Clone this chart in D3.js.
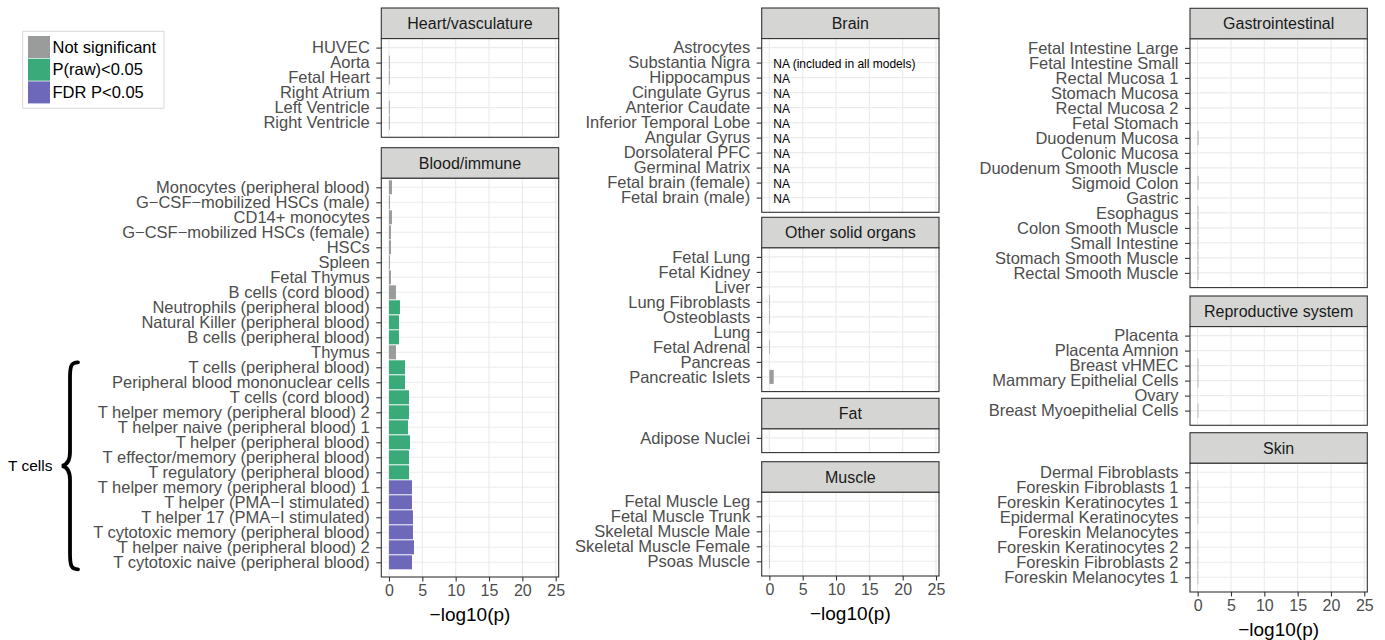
<!DOCTYPE html>
<html>
<head>
<meta charset="utf-8">
<script src="https://cdn.jsdelivr.net/npm/d3@7"></script>
<style>
  html, body { margin: 0; padding: 0; background: #fff; }
  svg { display: block; font-family: "Liberation Sans", Arial, Helvetica, sans-serif; }
</style>
</head>
<body>
<svg id="chart" width="1385" height="640"></svg>
<script>
// ---------------- DATA ----------------
const statusLevels = ["ns", "raw", "fdr"];
const legendLabels = ["Not significant", "P(raw)<0.05", "FDR P<0.05"];
const xTicks = [0, 5, 10, 15, 20, 25];
const xTitle = "\u2212log10(p)";

const heartTissues = ["HUVEC", "Aorta", "Fetal Heart", "Right Atrium", "Left Ventricle", "Right Ventricle"];
const heartLogP    = [0, 0.12, 0.12, 0, 0.12, 0.12];
const heartStatus  = ["ns", "ns", "ns", "ns", "ns", "ns"];

const bloodTissues = ["Monocytes (peripheral blood)", "G\u2212CSF\u2212mobilized HSCs (male)", "CD14+ monocytes",
  "G\u2212CSF\u2212mobilized HSCs (female)", "HSCs", "Spleen", "Fetal Thymus", "B cells (cord blood)",
  "Neutrophils (peripheral blood)", "Natural Killer (peripheral blood)", "B cells (peripheral blood)", "Thymus",
  "T cells (peripheral blood)", "Peripheral blood mononuclear cells", "T cells (cord blood)",
  "T helper memory (peripheral blood) 2", "T helper naive (peripheral blood) 1", "T helper (peripheral blood)",
  "T effector/memory (peripheral blood)", "T regulatory (peripheral blood)", "T helper memory (peripheral blood) 1",
  "T helper (PMA\u2212I stimulated)", "T helper 17 (PMA\u2212I stimulated)", "T cytotoxic memory (peripheral blood)",
  "T helper naive (peripheral blood) 2", "T cytotoxic naive (peripheral blood)"];
const bloodLogP   = [0.45, 0.15, 0.45, 0.3, 0.3, 0.15, 0.3, 1.05, 1.65, 1.5, 1.5, 1.05,
  2.4, 2.4, 3.0, 3.0, 2.85, 3.15, 3.0, 3.0, 3.45, 3.45, 3.6, 3.6, 3.75, 3.45];
const bloodStatus = ["ns", "ns", "ns", "ns", "ns", "ns", "ns", "ns", "raw", "raw", "raw", "ns",
  "raw", "raw", "raw", "raw", "raw", "raw", "raw", "raw", "fdr", "fdr", "fdr", "fdr", "fdr", "fdr"];

const brainTissues = ["Astrocytes", "Substantia Nigra", "Hippocampus", "Cingulate Gyrus", "Anterior Caudate",
  "Inferior Temporal Lobe", "Angular Gyrus", "Dorsolateral PFC", "Germinal Matrix", "Fetal brain (female)", "Fetal brain (male)"];
const brainLogP   = [null, null, null, null, null, null, null, null, null, null, null];
const brainStatus = ["ns", "ns", "ns", "ns", "ns", "ns", "ns", "ns", "ns", "ns", "ns"];
const brainNotes  = ["", "NA (included in all models)", "NA", "NA", "NA", "NA", "NA", "NA", "NA", "NA", "NA"];

const otherTissues = ["Fetal Lung", "Fetal Kidney", "Liver", "Lung Fibroblasts", "Osteoblasts", "Lung",
  "Fetal Adrenal", "Pancreas", "Pancreatic Islets"];
const otherLogP   = [0, 0, 0, 0.1, 0.1, 0, 0.1, 0, 0.65];
const otherStatus = ["ns", "ns", "ns", "ns", "ns", "ns", "ns", "ns", "ns"];

const fatTissues = ["Adipose Nuclei"];
const fatLogP    = [0];
const fatStatus  = ["ns"];

const muscleTissues = ["Fetal Muscle Leg", "Fetal Muscle Trunk", "Skeletal Muscle Male", "Skeletal Muscle Female", "Psoas Muscle"];
const muscleLogP    = [0, 0, 0.08, 0.08, 0.08];
const muscleStatus  = ["ns", "ns", "ns", "ns", "ns"];

const giTissues = ["Fetal Intestine Large", "Fetal Intestine Small", "Rectal Mucosa 1", "Stomach Mucosa",
  "Rectal Mucosa 2", "Fetal Stomach", "Duodenum Mucosa", "Colonic Mucosa", "Duodenum Smooth Muscle",
  "Sigmoid Colon", "Gastric", "Esophagus", "Colon Smooth Muscle", "Small Intestine",
  "Stomach Smooth Muscle", "Rectal Smooth Muscle"];
const giLogP   = [0, 0, 0, 0, 0, 0, 0.12, 0, 0, 0.12, 0, 0.1, 0.1, 0.1, 0.1, 0.1];
const giStatus = Array.from(giTissues, () => "ns");

const reproTissues = ["Placenta", "Placenta Amnion", "Breast vHMEC", "Mammary Epithelial Cells", "Ovary", "Breast Myoepithelial Cells"];
const reproLogP    = [0, 0, 0.1, 0.1, 0, 0.1];
const reproStatus  = ["ns", "ns", "ns", "ns", "ns", "ns"];

const skinTissues = ["Dermal Fibroblasts", "Foreskin Fibroblasts 1", "Foreskin Keratinocytes 1", "Epidermal Keratinocytes",
  "Foreskin Melanocytes", "Foreskin Keratinocytes 2", "Foreskin Fibroblasts 2", "Foreskin Melanocytes 1"];
const skinLogP    = [0, 0.08, 0.08, 0.08, 0, 0.08, 0.08, 0.08];
const skinStatus  = ["ns", "ns", "ns", "ns", "ns", "ns", "ns", "ns"];

const bracketLabel = "T cells";

// ---------------- LAYOUT / STYLE ----------------
const colors = { ns: "#9A9C9C", raw: "#3BAA7B", fdr: "#6D68B9" };
const columns = [
  { x0: 381.3, x1: 558.7 },
  { x0: 761.7, x1: 939.0 },
  { x0: 1190.0, x1: 1367.3 }
];
const panels = [
  { title: "Heart/vasculature",   col: 0, top: 8,     tissues: heartTissues, logp: heartLogP, status: heartStatus },
  { title: "Blood/immune",        col: 0, top: 147.7, tissues: bloodTissues, logp: bloodLogP, status: bloodStatus, axis: true },
  { title: "Brain",               col: 1, top: 8,     tissues: brainTissues, logp: brainLogP, status: brainStatus, notes: brainNotes },
  { title: "Other solid organs",  col: 1, top: 217.3, tissues: otherTissues, logp: otherLogP, status: otherStatus },
  { title: "Fat",                 col: 1, top: 398.3, tissues: fatTissues, logp: fatLogP, status: fatStatus },
  { title: "Muscle",              col: 1, top: 461.7, tissues: muscleTissues, logp: muscleLogP, status: muscleStatus, axis: true },
  { title: "Gastrointestinal",    col: 2, top: 8.3,   tissues: giTissues, logp: giLogP, status: giStatus },
  { title: "Reproductive system", col: 2, top: 296,   tissues: reproTissues, logp: reproLogP, status: reproStatus },
  { title: "Skin",                col: 2, top: 432.7, tissues: skinTissues, logp: skinLogP, status: skinStatus, axis: true }
];
const STRIP_H = 30.6, ROW = 15, TOP_PAD = 9, BOT_PAD = 14.7, BAR_H = 14;
const LABEL_FS = 16.5, STRIP_FS = 16, TICK_FS = 16, TITLE_FS = 19;

const svg = d3.select("#chart");

panels.forEach(p => {
  const c = columns[p.col];
  const x = d3.scaleLinear().domain([-1.15, 25.45]).range([c.x0, c.x1]);
  const bodyTop = p.top + STRIP_H;
  const n = p.tissues.length;
  const bodyBot = bodyTop + TOP_PAD + ROW * (n - 1) + BOT_PAD;
  const y = d3.scalePoint().domain(p.tissues).range([bodyTop + TOP_PAD, bodyTop + TOP_PAD + ROW * (n - 1)]);
  const g = svg.append("g");
  const w = c.x1 - c.x0;

  // strip
  g.append("rect").attr("x", c.x0).attr("y", p.top).attr("width", w).attr("height", STRIP_H)
    .attr("fill", "#D5D6D4").attr("stroke", "#333").attr("stroke-width", 1.1);
  g.append("text").attr("x", (c.x0 + c.x1) / 2).attr("y", p.top + STRIP_H / 2).attr("dy", "0.35em")
    .attr("text-anchor", "middle").attr("font-size", STRIP_FS).attr("fill", "#1A1A1A").text(p.title);

  // body background
  g.append("rect").attr("x", c.x0).attr("y", bodyTop).attr("width", w).attr("height", bodyBot - bodyTop).attr("fill", "#fff");

  // grid
  g.append("g").selectAll("line").data(xTicks).join("line")
    .attr("x1", d => x(d)).attr("x2", d => x(d)).attr("y1", bodyTop).attr("y2", bodyBot)
    .attr("stroke", "#EBEBEB").attr("stroke-width", 1.1);
  g.append("g").selectAll("line").data(p.tissues).join("line")
    .attr("x1", c.x0).attr("x2", c.x1).attr("y1", d => y(d)).attr("y2", d => y(d))
    .attr("stroke", "#EBEBEB").attr("stroke-width", 1.1);

  // bars
  const rows = p.tissues.map((t, i) => ({ t, v: p.logp[i], s: p.status[i] }));
  g.append("g").selectAll("rect").data(rows.filter(d => d.v != null && d.v > 0)).join("rect")
    .attr("x", x(0)).attr("y", d => y(d.t) - BAR_H / 2)
    .attr("width", d => x(d.v) - x(0)).attr("height", BAR_H)
    .attr("fill", d => colors[d.s]);

  // notes (NA)
  if (p.notes) {
    g.append("g").selectAll("text").data(p.tissues.map((t, i) => ({ t, note: p.notes[i] })).filter(d => d.note)).join("text")
      .attr("x", x(0) + 4).attr("y", d => y(d.t) + 1.5).attr("dy", "0.35em")
      .attr("font-size", 12).attr("fill", "#000").text(d => d.note);
  }

  // border
  g.append("rect").attr("x", c.x0).attr("y", bodyTop).attr("width", w).attr("height", bodyBot - bodyTop)
    .attr("fill", "none").attr("stroke", "#333").attr("stroke-width", 1.1);

  // y axis
  const yAxis = d3.axisLeft(y).tickSize(5).tickPadding(6.5);
  const ya = g.append("g").attr("transform", `translate(${c.x0},0)`).call(yAxis);
  ya.select(".domain").remove();
  ya.selectAll(".tick line").attr("stroke", "#333").attr("stroke-width", 1.1);
  ya.selectAll(".tick text").attr("font-size", LABEL_FS).attr("fill", "#4D4D4D")
    .attr("font-family", "Liberation Sans, Arial, sans-serif");

  // x axis
  if (p.axis) {
    const xAxis = d3.axisBottom(x).tickValues(xTicks).tickSize(4.5).tickPadding(3.5).tickFormat(d3.format("d"));
    const xa = g.append("g").attr("transform", `translate(0,${bodyBot})`).call(xAxis);
    xa.select(".domain").remove();
    xa.selectAll(".tick line").attr("stroke", "#333").attr("stroke-width", 1.1);
    xa.selectAll(".tick text").attr("font-size", TICK_FS).attr("fill", "#4D4D4D")
      .attr("font-family", "Liberation Sans, Arial, sans-serif");
    g.append("text").attr("x", (c.x0 + c.x1) / 2).attr("y", bodyBot + 44)
      .attr("text-anchor", "middle").attr("font-size", TITLE_FS).attr("fill", "#000").text(xTitle);
  }

  p._y = y; p._bodyTop = bodyTop; p._bodyBot = bodyBot;
});

// ---------------- BRACKET ----------------
const blood = panels[1];
const bTop = blood._y(bloodTissues[12]) - 5;
const bBot = blood._y(bloodTissues[25]) + 7;
const bMid = (bTop + bBot) / 2;
const bx = 70;
svg.append("path")
  .attr("d", `M ${bx + 8} ${bTop} C ${bx + 1} ${bTop}, ${bx} ${bTop + 4}, ${bx} ${bTop + 16}
              L ${bx} ${bMid - 14} C ${bx} ${bMid - 5}, ${bx - 3} ${bMid - 1}, ${bx - 8} ${bMid}
              C ${bx - 3} ${bMid + 1}, ${bx} ${bMid + 5}, ${bx} ${bMid + 14}
              L ${bx} ${bBot - 16} C ${bx} ${bBot - 4}, ${bx + 1} ${bBot}, ${bx + 8} ${bBot}`)
  .attr("fill", "none").attr("stroke", "#000").attr("stroke-width", 3.8).attr("stroke-linecap", "round");
svg.append("text").attr("x", 8).attr("y", bMid).attr("dy", "0.35em")
  .attr("font-size", 15.5).attr("fill", "#000").text(bracketLabel);

// ---------------- LEGEND ----------------
const lg = svg.append("g");
lg.append("rect").attr("x", 22.7).attr("y", 31.3).attr("width", 141.3).attr("height", 77)
  .attr("fill", "#fff").attr("stroke", "#D9D9D9").attr("stroke-width", 1);
statusLevels.forEach((s, i) => {
  const yy = 36 + i * 22.7;
  lg.append("rect").attr("x", 28).attr("y", yy).attr("width", 22).attr("height", 22).attr("fill", colors[s]);
  lg.append("text").attr("x", 52.5).attr("y", yy + 11).attr("dy", "0.35em")
    .attr("font-size", 16.5).attr("fill", "#000").text(legendLabels[i]);
});
</script>
</body>
</html>
